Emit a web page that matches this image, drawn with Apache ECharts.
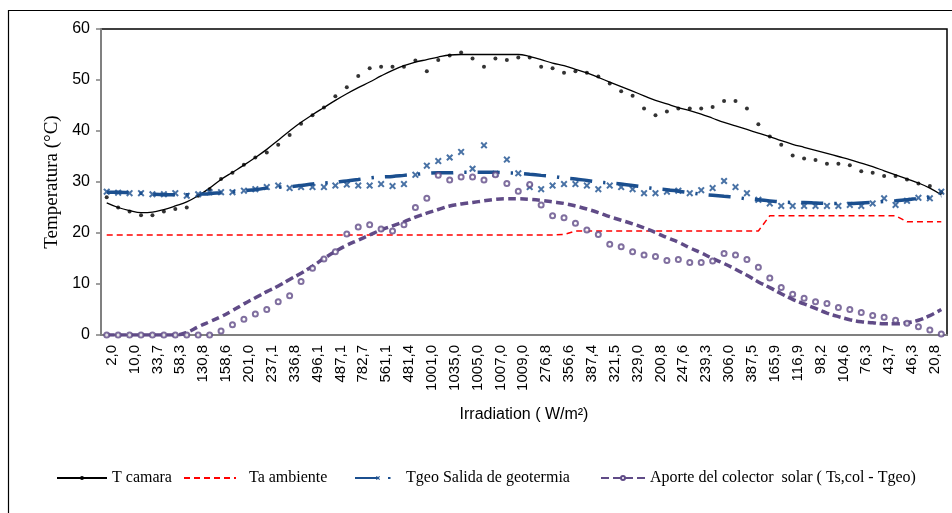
<!DOCTYPE html>
<html>
<head>
<meta charset="utf-8">
<script src="https://cdn.jsdelivr.net/npm/echarts@6/dist/echarts.min.js"></script>
<style>
  html, body { margin: 0; padding: 0; background: #fff; }
  #chart { width: 952px; height: 513px; }
</style>
</head>
<body>
<div id="chart"></div>
<script>
// etiquetas del eje (una de cada dos categorias)
const irradLabels = ['2,0', '10,0', '33,7', '58,3', '130,8', '158,6', '201,0', '237,1', '336,8', '496,1',
  '487,1', '782,7', '561,1', '481,4', '1001,0', '1035,0', '1005,0', '1007,0', '1009,0', '276,8',
  '356,6', '387,4', '321,5', '329,0', '200,8', '247,6', '239,3', '306,0', '387,5', '165,9',
  '116,9', '98,2', '104,6', '76,3', '43,7', '46,3', '20,8'];

const tCamaraPts = [27.0, 25.0, 24.2, 23.5, 23.5, 24.2, 24.7, 25.0, 27.3, 28.6,
  30.6, 31.8, 33.4, 34.8, 35.8, 37.3, 39.2, 41.4, 43.1, 44.6,
  46.8, 48.6, 50.8, 52.3, 52.6, 52.6, 52.6, 53.8, 51.7, 53.9,
  54.8, 55.4, 54.2, 52.6, 54.2, 53.9, 54.4, 54.4, 52.6, 52.3,
  51.4, 51.7, 51.4, 50.7, 49.3, 47.8, 46.9, 44.4, 43.1, 43.8,
  44.4, 44.4, 44.4, 44.7, 45.9, 45.9, 44.4, 41.3, 38.9, 37.3,
  35.2, 34.6, 34.3, 33.6, 33.6, 33.3, 32.1, 31.8, 31.2, 31.2,
  30.5, 29.7, 29.2, 28.0];

const tCamaraFit = [25.9, 25.0, 24.4, 24.0, 24.1, 24.6, 25.3, 26.1, 27.3, 28.8,
  30.5, 31.9, 33.3, 34.8, 36.4, 38.2, 40.0, 41.7, 43.2, 44.6,
  46.0, 47.3, 48.5, 49.6, 50.8, 51.9, 52.8, 53.5, 54.0, 54.5,
  54.9, 55.0, 55.0, 55.0, 55.0, 55.0, 55.0, 54.6, 54.0, 53.3,
  52.8, 52.1, 51.4, 50.5, 49.6, 48.7, 47.8, 46.9, 46.0, 45.3,
  44.6, 44.0, 43.3, 42.5, 41.7, 41.0, 40.3, 39.6, 38.9, 38.1,
  37.4, 36.8, 36.2, 35.6, 35.0, 34.4, 33.7, 33.0, 32.2, 31.4,
  30.6, 29.8, 28.8, 27.5];

const taAmbiente = [19.6, 19.6, 19.6, 19.6, 19.6, 19.6, 19.6, 19.6, 19.6, 19.6,
  19.6, 19.6, 19.6, 19.6, 19.6, 19.6, 19.6, 19.6, 19.6, 19.6,
  19.6, 19.6, 19.6, 19.6, 19.6, 19.6, 19.6, 19.6, 19.6, 19.6,
  19.6, 19.6, 19.6, 19.6, 19.6, 19.6, 19.6, 19.6, 19.6, 19.6,
  19.7, 20.4, 20.4, 20.4, 20.4, 20.4, 20.4, 20.4, 20.4, 20.4,
  20.4, 20.4, 20.4, 20.4, 20.4, 20.4, 20.4, 20.4, 23.4, 23.4,
  23.4, 23.4, 23.4, 23.4, 23.4, 23.4, 23.4, 23.4, 23.4, 23.4,
  22.2, 22.2, 22.2, 22.2];

const tGeoPts = [28.1, 27.9, 27.8, 27.8, 27.6, 27.6, 27.8, 27.3, 27.6, 28.0,
  28.0, 28.0, 28.3, 28.6, 29.0, 29.3, 28.8, 29.0, 29.0, 29.0,
  29.3, 29.5, 29.3, 29.3, 29.6, 29.2, 29.6, 31.4, 33.2, 34.1,
  34.8, 35.9, 32.6, 37.2, 31.6, 34.4, 31.7, 29.0, 28.6, 29.3,
  29.6, 29.6, 29.3, 28.6, 29.3, 29.0, 28.6, 27.8, 27.8, 28.1,
  28.3, 27.8, 28.4, 28.8, 30.2, 29.0, 27.8, 26.5, 25.8, 25.3,
  25.3, 25.3, 25.3, 25.3, 25.3, 25.5, 25.3, 25.8, 26.8, 25.5,
  26.3, 26.9, 26.8, 28.1];

const tGeoFit = [28.0, 28.0, 27.9, 27.8, 27.6, 27.5, 27.5, 27.5, 27.6, 27.7,
  27.9, 28.1, 28.3, 28.5, 28.8, 29.0, 29.1, 29.3, 29.6, 29.8,
  30.0, 30.2, 30.5, 30.8, 31.0, 31.1, 31.3, 31.5, 31.7, 31.8,
  31.8, 31.9, 31.9, 31.9, 31.9, 31.8, 31.7, 31.5, 31.3, 31.1,
  30.8, 30.6, 30.3, 30.0, 29.8, 29.6, 29.3, 29.0, 28.7, 28.5,
  28.2, 27.9, 27.6, 27.4, 27.2, 27.0, 26.7, 26.5, 26.3, 26.1,
  26.0, 26.0, 25.9, 25.8, 25.8, 25.8, 25.9, 26.0, 26.2, 26.3,
  26.5, 26.8, 27.0, 27.3];

const aportePts = [0, 0, 0, 0, 0, 0, 0, 0, 0, 0,
  0.8, 2.0, 3.1, 4.1, 5.0, 6.5, 7.7, 10.5, 13.1, 14.9,
  16.3, 19.8, 21.2, 21.6, 20.8, 20.4, 21.6, 25.0, 26.8, 31.3,
  30.4, 31.0, 31.0, 30.4, 31.4, 29.7, 28.2, 29.5, 25.5, 23.4,
  23.0, 21.9, 20.6, 19.7, 17.8, 17.3, 16.3, 15.7, 15.4, 14.6,
  14.8, 14.2, 14.2, 14.5, 16.0, 15.7, 14.8, 13.3, 11.2, 9.3,
  8.0, 7.2, 6.5, 6.2, 5.4, 5.0, 4.4, 3.8, 3.5, 2.9,
  2.3, 1.6, 1.0, 0.2];

const aporteFit = [0, 0, 0, 0, 0, 0, 0, 0.5, 1.6, 2.6,
  3.6, 4.8, 6.1, 7.3, 8.5, 9.6, 10.9, 12.1, 13.5, 15.0,
  16.4, 17.6, 18.6, 19.6, 20.6, 21.4, 22.2, 23.1, 23.9, 24.6,
  25.3, 25.7, 26.0, 26.3, 26.6, 26.7, 26.7, 26.6, 26.4, 26.1,
  25.8, 25.3, 24.7, 24.0, 23.2, 22.5, 21.8, 21.0, 20.1, 19.1,
  18.2, 17.1, 16.1, 15.0, 14.0, 12.9, 11.7, 10.4, 9.3, 8.1,
  7.0, 6.1, 5.2, 4.3, 3.6, 3.0, 2.6, 2.4, 2.2, 2.2,
  2.4, 2.9, 3.8, 5.0];

// cada etiqueta va seguida de una categoria sin rotulo
const categories = [];
irradLabels.forEach(l => { categories.push(l, ''); });

const BLUE = '#1B4F8F';
const PURPLE = '#604B87';
const xMark = 'path://M0,2L2,0L5,3L8,0L10,2L7,5L10,8L8,10L5,7L2,10L0,8L3,5Z';

const legendBase = {
  top: 470,
  padding: 0,
  itemHeight: 5,
  itemGap: 0,
  selectedMode: false,
  textStyle: { fontFamily: 'Liberation Serif', fontSize: 16, color: '#000' }
};

const chart = echarts.init(document.getElementById('chart'));
chart.setOption({
  animation: false,
  backgroundColor: '#fff',
  graphic: [{
    type: 'rect',
    silent: true,
    z: -1,
    shape: { x: 8.5, y: 10.5, width: 990, height: 600 },
    style: { fill: 'none', stroke: '#000', lineWidth: 1.2 }
  }],
  legend: [
    Object.assign({}, legendBase, { left: 56, itemWidth: 50, data: ['T camara'] }),
    Object.assign({}, legendBase, { left: 183, itemWidth: 52, formatter: '  {name}',
      data: [{ name: 'Ta ambiente', itemStyle: { opacity: 0 } }] }),
    Object.assign({}, legendBase, { left: 354, itemWidth: 46, data: ['Tgeo Salida de geotermia'] }),
    Object.assign({}, legendBase, { left: 600, itemWidth: 44, data: ['Aporte del colector  solar ( Ts,col - Tgeo)'] })
  ],
  grid: {
    left: 101, right: 5, top: 29, bottom: 178,
    show: true, borderColor: '#000', borderWidth: 1.5
  },
  xAxis: {
    type: 'category',
    data: categories,
    boundaryGap: true,
    axisLine: { lineStyle: { color: '#808080', width: 2 } },
    axisTick: { show: false },
    axisLabel: {
      rotate: 90, interval: 0, margin: 10,
      verticalAlign: 'top', lineHeight: 10,
      fontFamily: 'Liberation Sans', fontSize: 15, color: '#000'
    },
    name: 'Irradiation ( W/m²)',
    nameLocation: 'middle',
    nameGap: 72,
    nameTextStyle: { fontFamily: 'Liberation Sans', fontSize: 16, color: '#000' }
  },
  yAxis: {
    type: 'value',
    min: 0, max: 60, interval: 10,
    axisLine: { show: true, lineStyle: { color: '#808080', width: 2 } },
    axisTick: { show: true, length: 5, lineStyle: { color: '#808080', width: 1.5 } },
    splitLine: { show: false },
    axisLabel: { margin: 11, fontFamily: 'Liberation Sans', fontSize: 16, color: '#000' },
    name: 'Temperatura (°C)',
    nameLocation: 'middle',
    nameGap: 38,
    nameTextStyle: { fontFamily: 'Liberation Serif', fontSize: 19, color: '#000' }
  },
  series: [
    {
      name: 'T camara', type: 'line', data: tCamaraFit, smooth: 0.4,
      showSymbol: false, symbol: 'circle', itemStyle: { color: '#000' },
      lineStyle: { color: '#000', width: 1.3 }, z: 3
    },
    {
      name: 'T camara (medida)', type: 'scatter', data: tCamaraPts,
      symbol: 'circle', symbolSize: 4, itemStyle: { color: '#000' }, z: 4
    },
    {
      name: 'Ta ambiente', type: 'line', data: taAmbiente,
      showSymbol: false, symbol: 'circle', itemStyle: { color: '#FF0000' },
      lineStyle: { color: '#FF0000', width: 1.5, type: [6, 4] }, z: 3
    },
    {
      name: 'Tgeo Salida de geotermia', type: 'line', data: tGeoFit, smooth: 0.4,
      showSymbol: false, symbol: xMark, itemStyle: { color: BLUE },
      lineStyle: { color: BLUE, width: 3.5, type: [22, 11, 2.5, 11], cap: 'butt' }, z: 3
    },
    {
      name: 'Tgeo (medida)', type: 'scatter', data: tGeoPts,
      symbol: xMark, symbolSize: 7, itemStyle: { color: BLUE }, z: 4
    },
    {
      name: 'Aporte del colector  solar ( Ts,col - Tgeo)', type: 'line', data: aporteFit, smooth: 0.4,
      showSymbol: false, symbol: 'emptyCircle', itemStyle: { color: PURPLE },
      lineStyle: { color: PURPLE, width: 3.5, type: [8, 4], cap: 'butt' }, z: 3
    },
    {
      name: 'Aporte (medida)', type: 'scatter', data: aportePts,
      symbol: 'emptyCircle', symbolSize: 5,
      itemStyle: { color: PURPLE, borderColor: PURPLE, borderWidth: 1.3 }, z: 4
    }
  ]
});
</script>
</body>
</html>
